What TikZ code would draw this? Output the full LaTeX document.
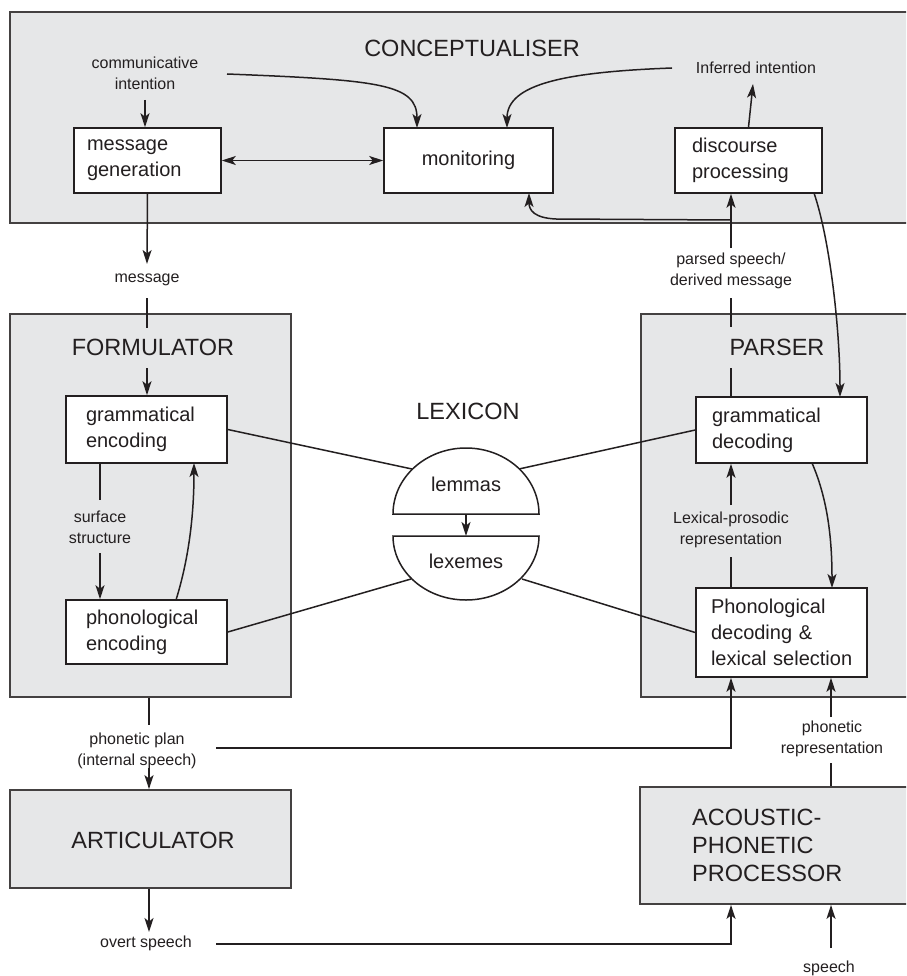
\documentclass[tikz,border=0pt]{standalone}
\usepackage{fontspec}
\setmainfont{Liberation Sans}
\usetikzlibrary{arrows.meta}
\definecolor{boxgray}{HTML}{E6E7E8}
\definecolor{ink}{HTML}{231F20}
\newcommand\bxfont{\fontsize{20}{26}\selectfont}
\newcommand\lbfont{\fontsize{16}{21}\selectfont}
\newcommand\tlfont{\fontsize{23.5}{28}\selectfont}
\begin{document}
\begin{tikzpicture}[x=1pt,y=-1pt,
  tip/.tip={Stealth[length=14pt,width=9pt,inset=3.5pt]},
  ln/.style={draw=ink, line width=1.5pt},
  arr/.style={draw=ink, line width=1.5pt, -tip},
  darr/.style={draw=ink, line width=1.5pt, tip-tip},
  big/.style={draw=ink!85, line width=1.8pt, fill=boxgray, rectangle, inner sep=0pt},
  box/.style={draw=ink, line width=1.6pt, fill=white, rectangle, font=\bxfont, text=ink, align=left},
  lab/.style={font=\lbfont, align=center, inner sep=0pt, text=ink},
  ttl/.style={font=\tlfont, inner sep=0pt, text=ink, align=left}]
\path[use as bounding box] (0,0) rectangle (906,976);
\clip (0,0) rectangle (906,976);
\fill[white] (0,0) rectangle (906,976);

% big boxes
\node[big, minimum width=905, minimum height=211] (concept) at (462.5,117.5) {};
\node[big, minimum width=281, minimum height=383] (form) at (150.5,505.5) {};
\node[big, minimum width=274, minimum height=383] (pars) at (778,505.5) {};
\node[big, minimum width=281, minimum height=98] (artic) at (150.5,839) {};
\node[big, minimum width=275, minimum height=117] (acou) at (777.5,845.5) {};

% titles
\node[ttl] (tconc) at (472,48) {CONCEPTUALISER};
\node[ttl] (tform) at (153,347) {FORMULATOR};
\node[ttl] (tlex) at (468,411) {LEXICON};
\node[ttl] (tpars) at (777,347) {PARSER};
\node[ttl] (tartic) at (153,840) {ARTICULATOR};
\node[ttl, anchor=west] (tacou) at (692,845) {ACOUSTIC-\\PHONETIC\\PROCESSOR};

% small boxes
\node[box, minimum width=147, minimum height=65, text width=121, inner xsep=13] (mg) at (147.5,160.5) {message\\generation};
\node[box, minimum width=169, minimum height=65, align=center] (mon) at (468.5,160.5) {monitoring};
\node[box, minimum width=147, minimum height=65, text width=113, inner xsep=17] (dp) at (748.5,160.5) {discourse\\processing};
\node[box, minimum width=161, minimum height=67, text width=121, inner xsep=20] (ge) at (146.5,429.5) {grammatical\\encoding};
\node[box, minimum width=161, minimum height=64, text width=121, inner xsep=20] (pe) at (146.5,632) {phonological\\encoding};
\node[box, minimum width=171, minimum height=66, text width=139, inner xsep=16] (gd) at (781.5,430) {grammatical\\decoding};
\node[box, minimum width=171, minimum height=89, text width=141, inner xsep=15] (pd) at (781.5,632.5) {\mbox{Phonological}\\\mbox{decoding \&}\\\mbox{lexical selection}};

% labels
\node[lab] (ci) at (145,73) {communicative\\intention};
\node[lab] (ii) at (756,68) {Inferred intention};
\node[lab] (msg) at (147,280) {message};
\node[lab] (ps) at (731,271) {parsed speech/\\derived message};
\node[lab] (ss) at (100,527) {surface\\structure};
\node[lab] (lp) at (731,530) {Lexical-prosodic\\representation};
\node[lab] (pp) at (137,751) {phonetic plan\\(internal speech)};
\node[lab] (pr) at (832,739) {phonetic\\representation};
\node[lab] (os) at (146,943) {overt speech};
\node[lab] (sp) at (829,968) {speech};

% lexicon
\draw[ln, fill=white] (393,514) arc[start angle=180,end angle=360,x radius=73,y radius=66] -- cycle;
\draw[ln, fill=white] (393,536) arc[start angle=180,end angle=0,x radius=73,y radius=64] -- cycle;
\node[font=\bxfont, text=ink, inner sep=0pt] (lem) at (466,484) {lemmas};
\node[font=\bxfont, text=ink, inner sep=0pt] (lxm) at (466,561) {lexemes};

% coordinates
\coordinate (ciA) at (145,100);
\coordinate (ciB) at (227,74);
\coordinate (monA) at (417,128);
\coordinate (iiA) at (672,68);
\coordinate (monB) at (507,128);
\coordinate (iiB) at (753,84);
\coordinate (monC) at (529,193);
\coordinate (psA) at (731,248);
\coordinate (psJ) at (731,220);
\coordinate (psB) at (731,298);
\coordinate (psC) at (731,327);
\coordinate (psD) at (731,368);
\coordinate (dpA) at (814,193);
\coordinate (gdA) at (840,397);
\coordinate (msgA) at (147,264);
\coordinate (msgB) at (147,298);
\coordinate (msgC) at (147,328);
\coordinate (msgD) at (147,368);
\coordinate (ssA) at (100,500);
\coordinate (ssB) at (100,553);
\coordinate (peA) at (176,600);
\coordinate (geA) at (194,463);
\coordinate (L1) at (412,469);
\coordinate (L2) at (411,579);
\coordinate (L3) at (519,469);
\coordinate (L4) at (522,579);
\coordinate (lmA) at (466,514);
\coordinate (lxA) at (466,536);
\coordinate (lpA) at (731,557);
\coordinate (lpB) at (731,505);
\coordinate (gdB) at (812,463);
\coordinate (pdA) at (832,588);
\coordinate (ppA) at (149,725);
\coordinate (ppB) at (149,768);
\coordinate (ppC) at (216,748);
\coordinate (ppD) at (731,748);
\coordinate (osA) at (149,932);
\coordinate (osB) at (216,944);
\coordinate (osC) at (731,944);
\coordinate (prA) at (831,763);
\coordinate (prB) at (831,717);
\coordinate (spA) at (831,948);

% conceptualiser connectors
\draw[arr] (ciA) -- (ciA |- mg.north);
\draw[arr] (ciB) .. controls (380,80) and (417,84) .. (monA);
\draw[arr] (iiA) .. controls (565,72) and (507,84) .. (monB);
\draw[arr] (dp.north) -- (iiB);
\draw[darr] (mg.east) -- (mon.west);
\draw[arr] (psA) -- (psA |- dp.south);
\draw[arr] (psJ) -- (556,219) .. controls (534,218) and (529,210) .. (monC);
\draw[arr] (dpA) .. controls (830,240) and (840,330) .. (gdA);
\draw[arr] (mg.south) -- (msgA);

% formulator
\draw[ln] (msgB) -- (msgC);
\draw[arr] (msgD) -- (msgD |- ge.north);
\draw[ln] (ssA |- ge.south) -- (ssA);
\draw[arr] (ssB) -- (ssB |- pe.north);
\draw[arr] (peA) .. controls (190,555) and (194,510) .. (geA);

% lexicon connectors
\draw[ln] (ge.east) -- (L1);
\draw[ln] (pe.east) -- (L2);
\draw[ln] (L3) -- (gd.west);
\draw[ln] (L4) -- (pd.west);
\draw[arr] (lmA) -- (lxA);

% parser
\draw[ln] (psB) -- (psC);
\draw[ln] (psD) -- (psD |- gd.north);
\draw[ln] (lpA |- pd.north) -- (lpA);
\draw[arr] (lpB) -- (lpB |- gd.south);
\draw[arr] (gdB) .. controls (828,500) and (832,540) .. (pdA);

% bottom
\draw[ln] (ppA |- form.south) -- (ppA);
\draw[arr] (ppB) -- (ppB |- artic.north);
\draw[arr] (ppC) -- (ppD) -- (ppD |- pd.south);
\draw[arr] (osA |- artic.south) -- (osA);
\draw[arr] (osB) -- (osC) -- (osC |- acou.south);
\draw[ln] (prA |- acou.north) -- (prA);
\draw[arr] (prB) -- (prB |- pd.south);
\draw[arr] (spA) -- (spA |- acou.south);
\end{tikzpicture}
\end{document}
